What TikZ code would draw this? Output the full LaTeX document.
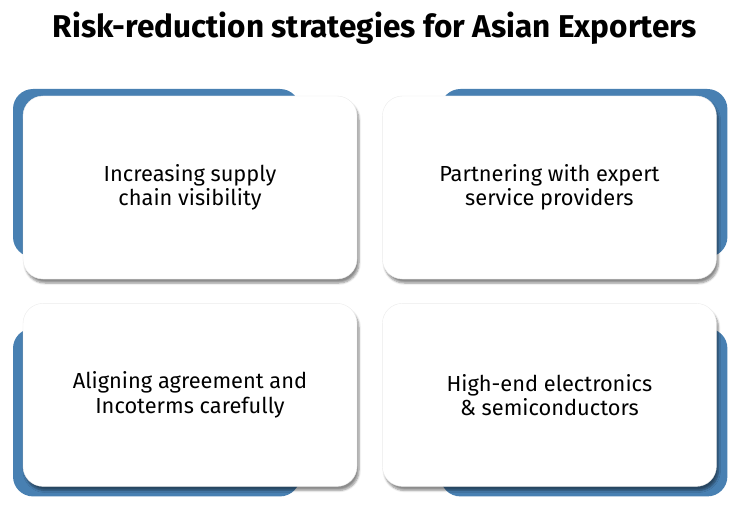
\documentclass[tikz,border=0pt]{standalone}
\usepackage{fontspec}
\setmainfont{Fira Sans}
\usetikzlibrary{positioning,shadows.blur,backgrounds}
\definecolor{backblue}{RGB}{72,128,178}

\begin{document}
\begin{tikzpicture}[
		base/.style = {rectangle, rounded corners=20pt, inner sep=0pt},
		card/.style = {base, fill=white, draw=black!8, minimum width=334pt, minimum height=183pt, align=center, font=\fontsize{21.8}{24.5}\selectfont, blur shadow={shadow xshift=2pt, shadow yshift=-4pt, shadow blur steps=6, shadow opacity=45}},
		back/.style = {base, fill=backblue, minimum width=287pt, minimum height=168pt},
		node distance=24pt and 25pt
		]
		\useasboundingbox (0,0) rectangle (753pt,-516pt);
		\node (T) at (375pt,-28pt) [font=\fontsize{31.5}{36}\selectfont\bfseries] {Risk-reduction strategies for Asian Exporters};
		
		\node (A) at (190pt,-187.5pt) [card] {Increasing supply\\chain visibility};
		\node (B) [card,right=of A] {Partnering with expert\\service providers};
		\node (C) [card,below=of A] {Aligning agreement and\\Incoterms carefully};
		\node (D) [card,right=of C] {High-end electronics\\\& semiconductors};
		
		\begin{scope}[on background layer]
			\node (A1) [back, anchor=north west] at ([shift={(-10pt,7pt)}]A.north west) {};
			\node (B1) [back, anchor=north east] at ([shift={(11pt,7pt)}]B.north east) {};
			\node (C1) [back, anchor=south west] at ([shift={(-10pt,-10pt)}]C.south west) {};
			\node (D1) [back, anchor=south east] at ([shift={(11pt,-10pt)}]D.south east) {};
		\end{scope}
	\end{tikzpicture}
\end{document}
